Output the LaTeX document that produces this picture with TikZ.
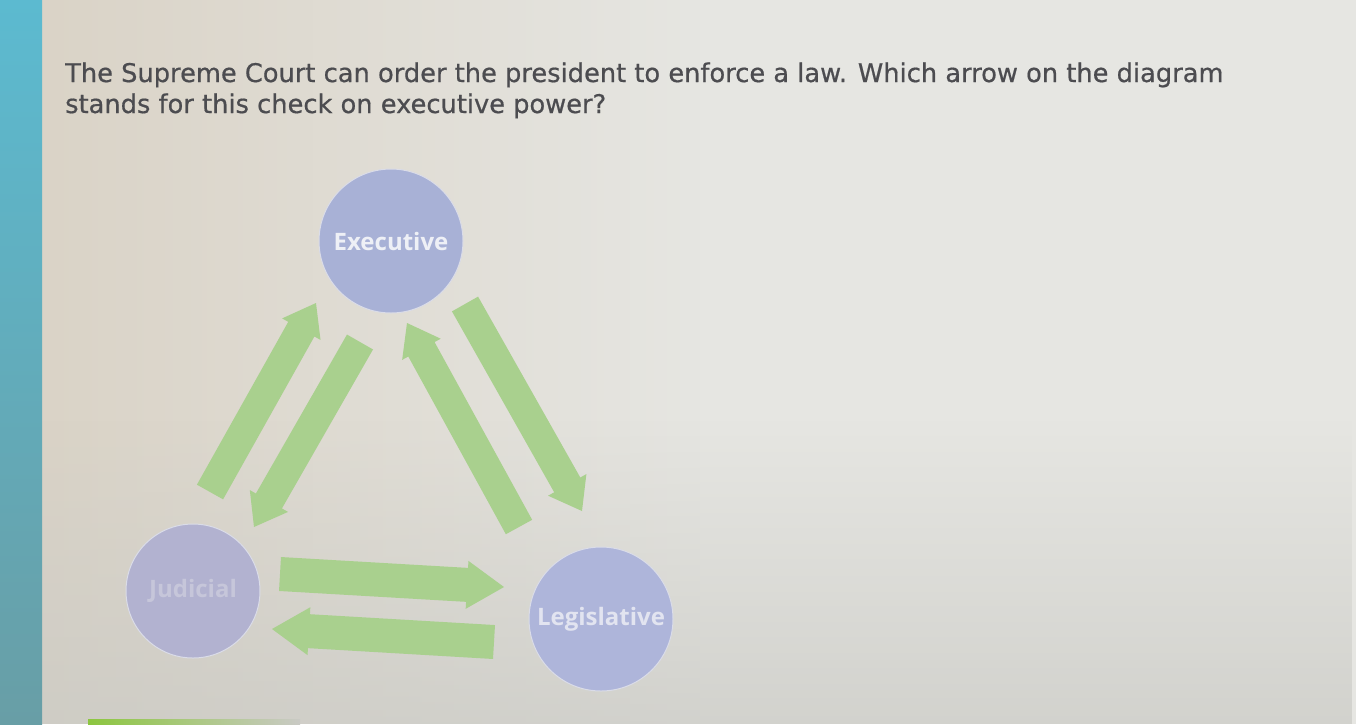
\documentclass[tikz,border=0pt]{standalone}
\usepackage{fontspec}
\setmainfont[FakeBold=0.6]{DejaVu Sans}
\newfontfamily\branchfont{Open Sans}
\usetikzlibrary{calc,fadings}
\definecolor{bgbase}{RGB}{230,230,226}
\definecolor{bgbeige}{RGB}{216,208,194}
\definecolor{bgdark}{RGB}{202,202,197}
\definecolor{stripT}{RGB}{92,186,208}
\definecolor{stripB}{RGB}{104,158,166}
\definecolor{arrowgreen}{RGB}{169,208,142}
\definecolor{execfill}{RGB}{168,177,214}
\definecolor{judfill}{RGB}{178,178,208}
\definecolor{legfill}{RGB}{174,181,218}
\definecolor{rim}{RGB}{218,220,232}
\definecolor{qtext}{RGB}{76,76,80}
\definecolor{exectext}{RGB}{238,240,246}
\definecolor{judtext}{RGB}{198,198,218}
\definecolor{legtext}{RGB}{226,228,240}
\definecolor{btngreen}{RGB}{140,198,63}
\newcommand\chkarrow[5]{%
  \coordinate (hb) at ($(#2)!#5!(#1)$);
  \fill[greenarrow] ($(#1)!#3!90:(#2)$) -- ($(hb)!#3!90:(#2)$) -- ($(hb)!#4!90:(#2)$) -- (#2)
    -- ($(hb)!#4!-90:(#2)$) -- ($(hb)!#3!-90:(#2)$) -- ($(#1)!#3!-90:(#2)$) -- cycle;}
\begin{document}
\begin{tikzpicture}[x=1pt,y=-1pt,
  greenarrow/.style={fill=arrowgreen},
  question/.style={anchor=base west, inner sep=0pt, text=qtext, font=\fontsize{25.7}{30}\selectfont},
  branch/.style={circle, minimum size=#1, inner sep=0pt, draw=rim, line width=1pt,
    font=\branchfont\bfseries\fontsize{24}{24}\selectfont}]
\useasboundingbox (0,0) rectangle (1356,724);
% background
\fill[bgbase] (0,0) rectangle (1356,724);
\fill[bgbeige, path fading=east, fill opacity=0.85] (40,0) rectangle (700,724);
\fill[bgdark, path fading=north, fill opacity=0.7] (0,420) rectangle (1356,724);
\fill[top color=stripT, bottom color=stripB] (0,0) rectangle (42,724);
\fill[left color=btngreen, right color=bgdark] (88,719) rectangle (300,724);
% question
\node[question] (q1) at (65,82) {The Supreme Court can order the president to enforce a law. Which arrow on the diagram};
\node[question] (q2) at (65,113) {stands for this check on executive power?};
% branches
\node[branch=144pt, fill=execfill, text=exectext] (exec) at (391,241) {Executive};
\node[branch=134pt, fill=judfill, text=judtext] (jud) at (193,591) {Judicial};
\node[branch=144pt, fill=legfill, text=legtext] (leg) at (601,619) {Legislative};
% arrow end points
\coordinate (je-s) at (210,492); \coordinate (je-e) at (316,303);
\coordinate (ej-s) at (360,342); \coordinate (ej-e) at (254,527);
\coordinate (le-s) at (519,527); \coordinate (le-e) at (407,323);
\coordinate (el-s) at (465,304); \coordinate (el-e) at (582,511);
\coordinate (jl-s) at (280,574); \coordinate (jl-e) at (504,587);
\coordinate (lj-s) at (494,642); \coordinate (lj-e) at (272,629);
\chkarrow{je-s}{je-e}{15pt}{22pt}{30pt}
\chkarrow{ej-s}{ej-e}{15pt}{22pt}{30pt}
\chkarrow{le-s}{le-e}{15pt}{22pt}{30pt}
\chkarrow{el-s}{el-e}{15pt}{22pt}{30pt}
\chkarrow{jl-s}{jl-e}{17pt}{24pt}{37pt}
\chkarrow{lj-s}{lj-e}{17pt}{24pt}{37pt}
\end{tikzpicture}
\end{document}
